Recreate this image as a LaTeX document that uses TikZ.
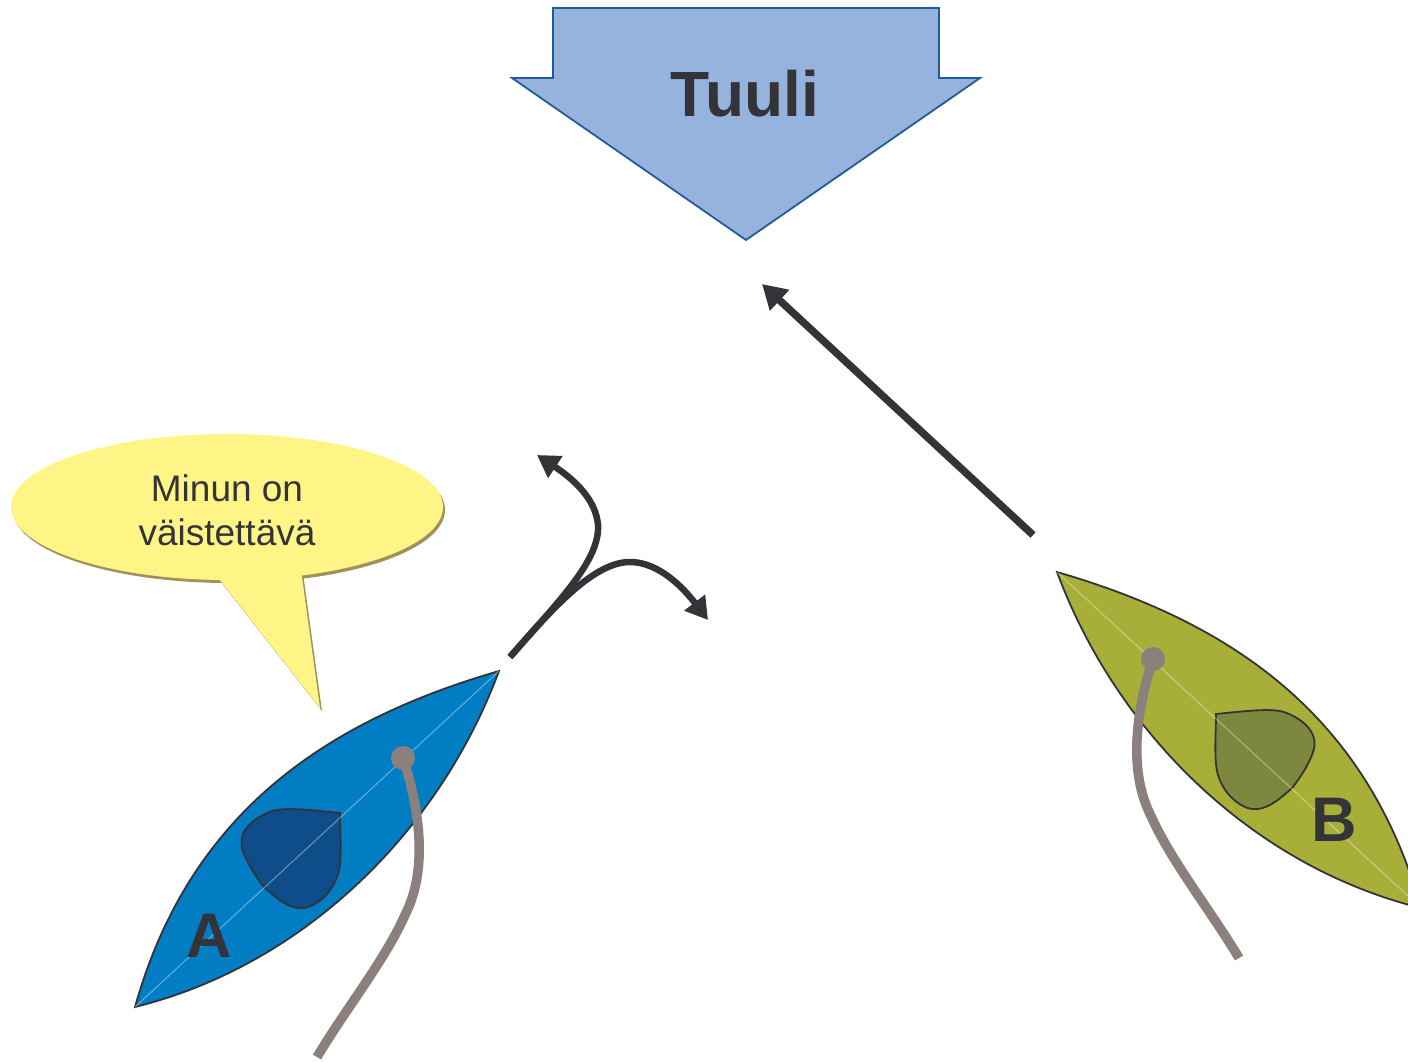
\documentclass[tikz,border=0pt]{standalone}
\usepackage{fontspec}
\setmainfont{Liberation Sans}
\usetikzlibrary{arrows.meta}
\definecolor{ink}{RGB}{51,51,56}
\definecolor{windfill}{RGB}{149,179,221}
\definecolor{windline}{RGB}{31,92,153}
\definecolor{hullA}{RGB}{0,125,195}
\definecolor{sailA}{RGB}{14,77,138}
\definecolor{hullB}{RGB}{168,175,57}
\definecolor{sailB}{RGB}{126,135,62}
\definecolor{ropecol}{RGB}{139,128,125}
\definecolor{bubblefill}{RGB}{255,245,135}
\definecolor{bubbleshade}{RGB}{160,145,90}
\newcommand\drawboat[2]{%
  \draw[hullline, fill=#1] (135,1007) .. controls (190,810) and (330,720) .. (499,671)
     .. controls (440,830) and (305,965) .. cycle;
  \draw[hullline, fill=#2] (340,813) .. controls (310,810) and (285,807) .. (272,811)
     .. controls (255,817) and (238,830) .. (242,848)
     .. controls (246,862) and (255,875) .. (263,886)
     .. controls (276,898) and (290,910) .. (304,908)
     .. controls (318,906) and (335,890) .. (339,870)
     .. controls (342,855) and (340,830) .. cycle;
  \draw[keel] (135,1007) -- (499,671);
  \draw[rope] (403,758) .. controls (420,810) and (428,870) .. (405,915)
     .. controls (385,960) and (345,1010) .. (317,1057);
  \fill[ropecol] (403,758) circle (12pt);
}
\begin{document}
\begin{tikzpicture}[x=1pt,y=-1pt,
  hullline/.style={draw=ink, line width=1.8pt},
  keel/.style={draw=white, opacity=0.4, line width=1pt},
  rope/.style={draw=ropecol, line width=9.5pt},
  course/.style={draw=ink, line width=6.5pt, -{Triangle[length=22pt,width=25pt]}},
  bigcourse/.style={draw=ink, line width=7.5pt, -{Triangle[length=24pt,width=27pt]}},
  boatlabel/.style={text=ink, font=\bfseries\fontsize{63}{70}\selectfont, inner sep=0pt}]
\useasboundingbox (0,0) rectangle (1408,1061);
\clip (0,0) rectangle (1408,1061);

% wind arrow
\draw[fill=windfill, draw=windline, line width=1.8pt, line join=miter]
  (553,8) -- (939,8) -- (939,78) -- (980,78) -- (746,240) -- (512,78) -- (553,78) -- cycle;
\node[text=ink, font=\bfseries\fontsize{64}{70}\selectfont, inner sep=0pt] (tuuli) at (745,94) {Tuuli};

% speech bubble
\begin{scope}[shift={(2,3)}]
  \fill[bubbleshade] (227,507) ellipse [x radius=216, y radius=73];
  \fill[bubbleshade] (212,570) -- (320,708) -- (301,570) -- cycle;
\end{scope}
\fill[bubblefill] (227,507) ellipse [x radius=216, y radius=73];
\fill[bubblefill] (212,570) -- (320,708) -- (301,570) -- cycle;
\node[text=ink, align=center, font=\fontsize{37}{44}\selectfont, inner sep=0pt] (say) at (227,510) {Minun on\\väistettävä};

% boat A
\drawboat{hullA}{sailA}
% boat B (mirror image of A)
\begin{scope}[shift={(1556,-99)}, xscale=-1]
  \drawboat{hullB}{sailB}
\end{scope}
\node[boatlabel] (labA) at (209,936) {A};
\node[boatlabel] (labB) at (1334,820) {B};

% courses
\coordinate (aStart) at (510,657);
\coordinate (aUp) at (537,455);
\coordinate (aRight) at (708,620);
\draw[course] (aStart) .. controls (560,600) and (600,560) .. (598,525)
   .. controls (596,500) and (575,480) .. (aUp);
\draw[course] (aStart) .. controls (555,605) and (595,562) .. (630,562)
   .. controls (660,562) and (685,590) .. (aRight);
\coordinate (bStart) at (1033,535);
\coordinate (bEnd) at (762,284);
\draw[bigcourse] (bStart) -- (bEnd);
\end{tikzpicture}
\end{document}
